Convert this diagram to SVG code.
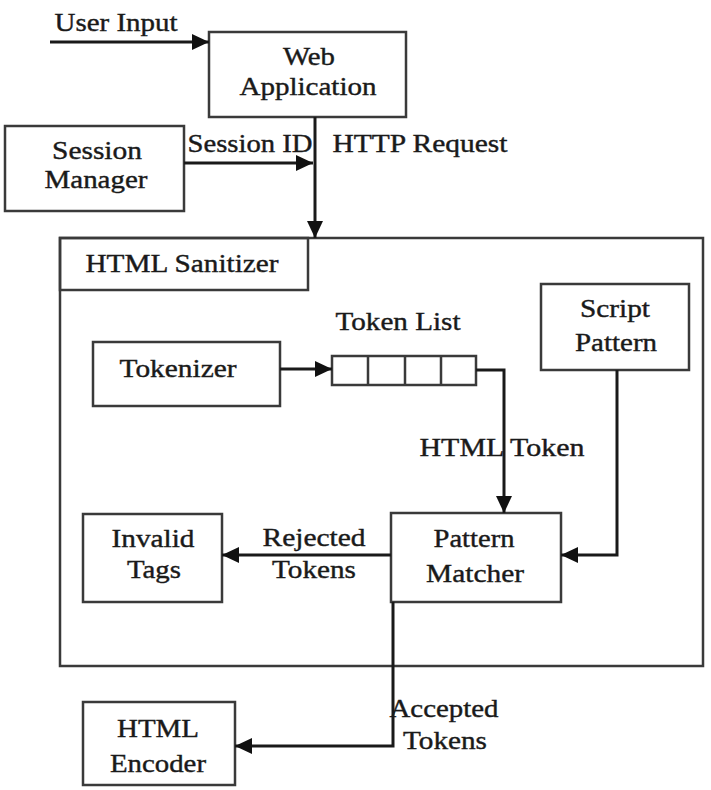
<svg xmlns="http://www.w3.org/2000/svg" width="711" height="790" viewBox="0 0 711 790">
<style>
.box{fill:#fff;stroke:#3a3a3a;stroke-width:2.5}
.frame{fill:none;stroke:#3a3a3a;stroke-width:2.5}
.ln{fill:none;stroke:#1a1a1a;stroke-width:3}
text{font-family:"Liberation Serif","Times New Roman",serif;font-size:26px;fill:#1a1a1a;stroke:#1a1a1a;stroke-width:0.4;text-anchor:middle}
</style>
<defs>
<marker id="ah" markerUnits="userSpaceOnUse" markerWidth="18" markerHeight="16" refX="17" refY="8" orient="auto">
<path d="M0,0 L17,8 L0,16 Z" fill="#111"/>
</marker>
</defs>
<rect width="711" height="790" fill="#fff"/>

<g id="html-sanitizer">
<rect class="frame" x="60" y="238" width="643" height="428"/>
<rect class="frame" x="60" y="238" width="248" height="52"/>
<text x="182" y="272" textLength="193" lengthAdjust="spacingAndGlyphs">HTML Sanitizer</text>
</g>

<g id="web-application">
<rect class="box" x="209" y="32" width="197" height="85"/>
<text x="309" y="65" textLength="52" lengthAdjust="spacingAndGlyphs">Web</text>
<text x="308" y="95" textLength="137" lengthAdjust="spacingAndGlyphs">Application</text>
</g>

<g id="session-manager">
<rect class="box" x="5" y="126" width="179" height="85"/>
<text x="97" y="159" textLength="90" lengthAdjust="spacingAndGlyphs">Session</text>
<text x="96" y="188" textLength="103" lengthAdjust="spacingAndGlyphs">Manager</text>
</g>

<g id="tokenizer">
<rect class="box" x="93" y="342" width="187" height="64"/>
<text x="178" y="377" textLength="117" lengthAdjust="spacingAndGlyphs">Tokenizer</text>
</g>

<g id="token-list">
<rect class="box" x="332" y="356" width="144" height="29"/>
<path class="frame" d="M368,356 V385 M405,356 V385 M441,356 V385"/>
<text x="398" y="330" textLength="125" lengthAdjust="spacingAndGlyphs">Token List</text>
</g>

<g id="script-pattern">
<rect class="box" x="541" y="284" width="148" height="86"/>
<text x="615" y="317" textLength="70" lengthAdjust="spacingAndGlyphs">Script</text>
<text x="616" y="351" textLength="82" lengthAdjust="spacingAndGlyphs">Pattern</text>
</g>

<g id="pattern-matcher">
<rect class="box" x="391" y="513" width="170" height="89"/>
<text x="474" y="547" textLength="81" lengthAdjust="spacingAndGlyphs">Pattern</text>
<text x="475" y="582" textLength="98" lengthAdjust="spacingAndGlyphs">Matcher</text>
</g>

<g id="invalid-tags">
<rect class="box" x="83" y="514" width="139" height="88"/>
<text x="153" y="547" textLength="83" lengthAdjust="spacingAndGlyphs">Invalid</text>
<text x="154" y="578" textLength="54" lengthAdjust="spacingAndGlyphs">Tags</text>
</g>

<g id="html-encoder">
<rect class="box" x="83" y="702" width="152" height="83"/>
<text x="158" y="737" textLength="82" lengthAdjust="spacingAndGlyphs">HTML</text>
<text x="158" y="772" textLength="96" lengthAdjust="spacingAndGlyphs">Encoder</text>
</g>

<g id="connectors">
<path class="ln" d="M50,42 H209" marker-end="url(#ah)"/>
<path class="ln" d="M184,163 H313" marker-end="url(#ah)"/>
<path class="ln" d="M315,117 V238" marker-end="url(#ah)"/>
<path class="ln" d="M280,369 H332" marker-end="url(#ah)"/>
<path class="ln" d="M476,370 H504 V513" marker-end="url(#ah)"/>
<path class="ln" d="M617,370 V555 H561" marker-end="url(#ah)"/>
<path class="ln" d="M391,555 H222" marker-end="url(#ah)"/>
<path class="ln" d="M393,602 V746 H235" marker-end="url(#ah)"/>
<text x="116" y="31" textLength="123" lengthAdjust="spacingAndGlyphs">User Input</text>
<text x="250" y="152" textLength="125" lengthAdjust="spacingAndGlyphs">Session ID</text>
<text x="420" y="152" textLength="175" lengthAdjust="spacingAndGlyphs">HTTP Request</text>
<text x="502" y="456" textLength="165" lengthAdjust="spacingAndGlyphs">HTML Token</text>
<text x="314" y="546" textLength="103" lengthAdjust="spacingAndGlyphs">Rejected</text>
<text x="314" y="578" textLength="84" lengthAdjust="spacingAndGlyphs">Tokens</text>
<text x="444" y="717" textLength="109" lengthAdjust="spacingAndGlyphs">Accepted</text>
<text x="445" y="749" textLength="84" lengthAdjust="spacingAndGlyphs">Tokens</text>
</g>
</svg>
